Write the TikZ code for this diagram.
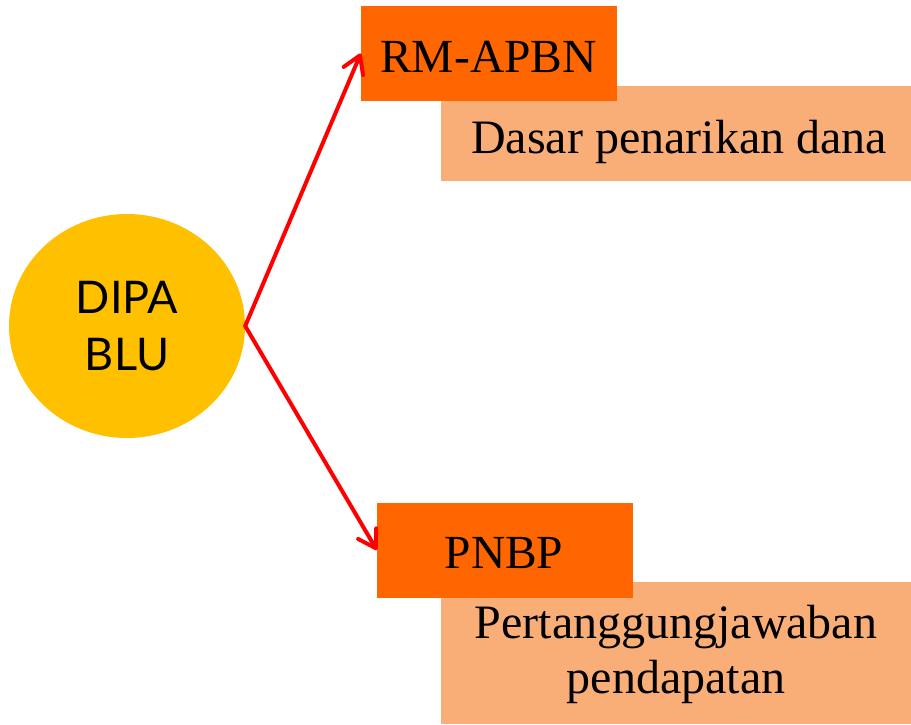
\documentclass[tikz,border=0pt]{standalone}
\usepackage{fontspec}
\setmainfont{Liberation Serif}
\newfontfamily\circlefont{Lato}
\usetikzlibrary{arrows.meta,shapes.geometric}
\definecolor{headorange}{HTML}{FF6600}
\definecolor{notepeach}{HTML}{F9AE78}
\definecolor{discgold}{HTML}{FFC000}
\begin{document}
\begin{tikzpicture}[x=1pt,y=-1pt,
  headbox/.style={fill=headorange, minimum width=256pt, minimum height=95pt, inner sep=0pt},
  notebox/.style={fill=notepeach, minimum width=470pt, inner sep=0pt},
  headtext/.style={anchor=base, inner sep=0pt, font=\fontsize{47.5}{54}\selectfont},
  notetext/.style={anchor=base, inner sep=0pt, align=center, font=\fontsize{48}{55}\selectfont},
  link/.style={draw=red, line width=4pt, line cap=round,
    -{Straight Barb[length=17pt,width=21pt,line width=4pt,round]}}]
  \useasboundingbox (0,0) rectangle (911,725);
  % notes behind the headers
  \node[notebox, minimum height=95pt] (dasar) at (676,133.5) {};
  \node[notetext] (dasartext) at (679,153) {Dasar penarikan dana};
  \node[notebox, minimum height=142pt] (tanggung) at (676,653) {};
  \node[notetext] (tanggungtext) at (676,693) {Pertanggungjawaban\\pendapatan};
  % headers
  \node[headbox] (rm) at (489,53.5) {};
  \node[headtext] (rmtext) at (488.5,73) {RM-APBN};
  \node[headbox] (pnbp) at (505,550) {};
  \node[headtext] (pnbptext) at (504,568) {PNBP};
  % source disc
  \node[ellipse, fill=discgold, minimum width=236pt, minimum height=224pt, inner sep=0pt,
    align=center, font=\circlefont\fontsize{45}{57}\selectfont] (dipa) at (127,326) {DIPA\\BLU};
  % connectors
  \draw[link] (dipa.east) -- (rm.west);
  \draw[link] (dipa.east) -- (pnbp.west);
\end{tikzpicture}
\end{document}
